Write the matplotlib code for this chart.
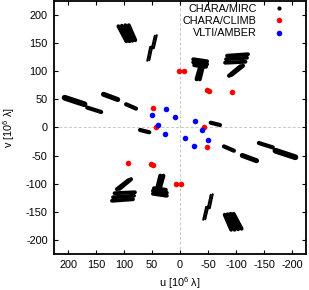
import matplotlib
matplotlib.use("Agg")
import matplotlib.pyplot as plt
from matplotlib.lines import Line2D

plt.rcParams['font.family'] = ['Liberation Sans', 'DejaVu Sans']
plt.rcParams['mathtext.fontset'] = 'custom'
plt.rcParams['mathtext.rm'] = 'Liberation Sans'
plt.rcParams['mathtext.it'] = 'Liberation Sans:italic'
plt.rcParams['axes.unicode_minus'] = False

# ---------------- data (u, v in 10^6 lambda) ----------------
# CHARA/MIRC tracks: start and end points of each track
mirc_u0 = [206.0, 165.7, 136.7, 96.3, 71.4,
           110.0, 103.8, 97.6, 91.4,
           41.5, 45.0, 49.5, 53.1,
           -23.5, -23.5, -25.3, -41.3, -36.8,
           -84.0, -82.2, -80.5, -112.5, -108.0,
           -206.0, -165.7, -136.7, -96.3, -71.4,
           -110.0, -103.8, -97.6, -91.4,
           -41.5, -45.0, -49.5, -53.1,
           23.5, 23.5, 25.3, 41.3, 36.8,
           84.0, 82.2, 80.5, 112.5, 108.0]
mirc_v0 = [52.9, 35.4, 59.1, 41.3, -4.4,
           180.1, 181.0, 181.9, 181.9,
           164.1, 163.2, 144.5, 143.6,
           121.4, 116.0, 110.7, 110.7, 110.7,
           127.6, 121.4, 115.2, 109.8, 108.9,
           -52.9, -35.4, -59.1, -41.3, 4.4,
           -180.1, -181.0, -181.9, -181.9,
           -164.1, -163.2, -144.5, -143.6,
           -121.4, -116.0, -110.7, -110.7, -110.7,
           -127.6, -121.4, -115.2, -109.8, -108.9]
mirc_u1 = [170.5, 140.8, 111.2, 78.5, 54.8,
           95.8, 90.3, 85.0, 79.8,
           46.8, 50.4, 54.9, 58.4,
           -48.4, -48.4, -46.6, -35.1, -29.7,
           -121.4, -119.6, -116.9, -92.0, -87.6,
           -170.5, -140.8, -111.2, -78.5, -54.8,
           -95.8, -90.3, -85.0, -79.8,
           -46.8, -50.4, -54.9, -58.4,
           48.4, 48.4, 46.6, 35.1, 29.7,
           121.4, 119.6, 116.9, 92.0, 87.6]
mirc_v1 = [41.3, 27.6, 49.7, 33.6, -8.5,
           153.4, 153.4, 154.3, 155.2,
           141.0, 140.2, 119.6, 118.7,
           117.8, 112.5, 108.0, 85.8, 85.8,
           130.3, 124.1, 116.9, 93.8, 92.0,
           -41.3, -27.6, -49.7, -33.6, 8.5,
           -153.4, -153.4, -154.3, -155.2,
           -141.0, -140.2, -119.6, -118.7,
           -117.8, -112.5, -108.0, -85.8, -85.8,
           -130.3, -124.1, -116.9, -93.8, -92.0]

# CHARA/CLIMB points
climb_u = [48.0, -48.0, 42.5, -42.5, 51.5, -51.5, 47.5, -47.5,
           92.0, -92.0, 7.0, -7.0, -2.5, 2.5]
climb_v = [34.0, -34.0, 0.0, 0.0, -64.5, 64.5, -67.5, 67.5,
           -63.5, 63.5, -100.0, 100.0, -100.0, 100.0]

# VLTI/AMBER points
amber_u = [25.1, 49.5, 9.4, 39.7, 26.3, -25.1, -49.5, -9.4, -39.7, -26.3]
amber_v = [33.6, 21.7, 19.0, 3.9, -12.1, -33.6, -21.7, -19.0, -3.9, 12.1]

tick_vals = [200, 150, 100, 50, 0, -50, -100, -150, -200]
legend_labels = ['CHARA/MIRC', 'CHARA/CLIMB', 'VLTI/AMBER']

# ---------------- styles ----------------
half_widths = [4.2, 3.0, 3.6, 3.0, 3.0,
               2.8, 2.8, 2.8, 2.8,
               1.5, 1.5, 1.5, 1.5,
               2.8, 2.8, 2.8, 3.0, 3.0,
               2.8, 2.8, 2.8, 3.0, 3.0]
track_widths = half_widths + half_widths

fig = plt.figure(figsize=(3.09, 2.90), dpi=100)
ax = fig.add_axes([0.1748, 0.1241, 0.8155, 0.8725])

ax.axhline(0, color='#c8c8c8', lw=0.7, ls=(0, (3, 2)), zorder=0)
ax.axvline(0, color='#c8c8c8', lw=0.7, ls=(0, (3, 2)), zorder=0)

for i in range(len(mirc_u0)):
    ax.plot([mirc_u0[i], mirc_u1[i]], [mirc_v0[i], mirc_v1[i]],
            color='black', lw=track_widths[i], solid_capstyle='round', zorder=2)

ax.plot(climb_u, climb_v, ls='', marker='o', ms=4.0, color='#ff0000',
        mec='none', zorder=3)
ax.plot(amber_u, amber_v, ls='', marker='o', ms=4.0, color='#0000ff',
        mec='none', zorder=3)

ax.set_xlim(225, -225)
ax.set_ylim(-225, 225)
ax.set_xticks(tick_vals)
ax.set_yticks(tick_vals)
ax.set_xticklabels([str(t) for t in tick_vals])
ax.set_yticklabels([str(t) for t in tick_vals])
ax.tick_params(direction='in', length=3, width=0.8, top=True, right=True,
               labelsize=7.8, pad=4.5)
for s in ax.spines.values():
    s.set_linewidth(1.3)

ax.set_xlabel(r'u [10$^{6}$ λ]', fontsize=7.8)
ax.set_ylabel(r'v [10$^{6}$ λ]', fontsize=7.8)
ax.xaxis.set_label_coords(0.5, -0.082)
ax.yaxis.set_label_coords(-0.145, 0.5)

handles = [Line2D([], [], ls='', marker='o', ms=2.0, color='black'),
           Line2D([], [], ls='', marker='o', ms=4.0, color='#ff0000', mec='none'),
           Line2D([], [], ls='', marker='o', ms=4.0, color='#0000ff', mec='none')]
ax.legend(handles, legend_labels, loc='upper right', bbox_to_anchor=(0.915, 0.988),
          markerfirst=False, frameon=False, fontsize=7.8, borderpad=0,
          borderaxespad=0, handlelength=1.0, handletextpad=1.6, labelspacing=0.2)

fig.savefig('out.png', dpi=100)
